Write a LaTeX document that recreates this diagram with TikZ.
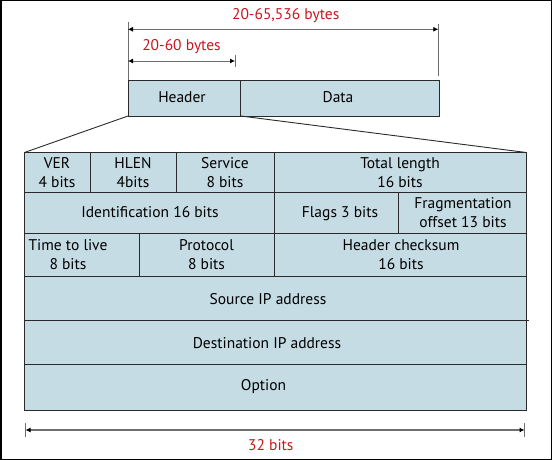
\documentclass[tikz,border=0pt]{standalone}
\usepackage{fontspec}
\setmainfont{PT Sans}
\usetikzlibrary{arrows.meta}
\definecolor{cellfill}{HTML}{C5DCE4}
\definecolor{lblred}{HTML}{C8171E}
\definecolor{arrgray}{HTML}{6E6E6E}
\definecolor{edge}{HTML}{2A2A2A}
\begin{document}
\begin{tikzpicture}[x=1pt,y=-1pt,
  cell/.style={draw=edge,fill=cellfill,line width=0.9pt},
  sep/.style={draw=edge,line width=0.9pt},
  txt/.style={font=\fontsize{15.5}{19}\selectfont,align=center,inner sep=0pt},
  red/.style={font=\fontsize{15.5}{19}\selectfont,text=lblred,inner sep=0pt},
  dim/.style={draw=arrgray,line width=0.8pt,{Latex[length=5pt,width=5pt,black]}-{Latex[length=5pt,width=5pt,black]}},
  tick/.style={draw=arrgray,line width=1pt}]
\useasboundingbox (0,0) rectangle (552,460);
\draw[line width=1.5pt] (0.75,0.75) rectangle (551.25,459.25);
% top boxes
\draw[cell] (128,80) rectangle (240.8,116);
\draw[cell] (240.8,80) rectangle (439,116);
\node[txt] (hdr) at (182,97.5) {Header};
\node[txt] (dat) at (338,97.5) {Data};
\coordinate (hl) at (128,116);
\coordinate (hr) at (240.8,116);
% table
\draw[cell] (24.5,152.5) rectangle (526.3,410);
\draw[sep] (24.5,192.7) -- (526.3,192.7);
\draw[sep] (24.5,233) -- (526.3,233);
\draw[sep] (24.5,276.7) -- (526.3,276.7);
\draw[sep] (24.5,320.5) -- (528.8,320.5);
\draw[sep] (24.5,364.3) -- (526.3,364.3);
\draw[sep] (90,152.5) -- (90,192.7);
\draw[sep] (176,152.5) -- (176,192.7);
\draw[sep] (274,152.5) -- (274,276.7);
\draw[sep] (398.8,192.7) -- (398.8,233);
\draw[sep] (139.5,233) -- (139.5,276.7);
\coordinate (tl) at (24.5,152.5);
\coordinate (tr) at (526.3,152.5);
\draw[sep] (hl) -- (tl);
\draw[sep] (hr) -- (tr);
% cell texts
\node[txt] (ver) at (57,173) {VER\\4 bits};
\node[txt] (hlen) at (133,173) {HLEN\\4bits};
\node[txt] (svc) at (225,173) {Service\\8 bits};
\node[txt] (tot) at (400,173) {Total length\\16 bits};
\node[txt] (idf) at (150,212) {Identification 16 bits};
\node[txt] (flg) at (340,214) {Flags 3 bits};
\node[txt] (frg) at (463,213) {Fragmentation\\offset 13 bits};
\node[txt] (ttl) at (68,255) {Time to live\\8 bits};
\node[txt] (prt) at (206.5,255) {Protocol\\8 bits};
\node[txt] (chk) at (401,255) {Header checksum\\16 bits};
\node[txt] (src) at (268,299) {Source IP address};
\node[txt] (dst) at (267,343) {Destination IP address};
\node[txt] (opt) at (263.5,387) {Option};
% top dimensions
\coordinate (a1) at (128,22);
\coordinate (a1b) at (128,80);
\coordinate (a2) at (438.3,24);
\coordinate (a2b) at (438.3,76);
\draw[tick] (a1) -- (a1b);
\draw[tick] (a2) -- (a2b);
\coordinate (b1) at (128,61);
\coordinate (b2) at (235,61);
\coordinate (b2t) at (235,55);
\coordinate (b2u) at (235,67);
\draw[tick] (b2t) -- (b2u);
\coordinate (c1) at (128,29.3);
\coordinate (c2) at (438.3,29.3);
\draw[dim] (c1) -- (c2);
\draw[dim] (b1) -- (b2);
\node[red] (l1) at (285.7,16) {20-65,536 bytes};
\node[red] (l2) at (181.5,46.5) {20-60 bytes};
% bottom dimension
\coordinate (d1) at (25.5,430);
\coordinate (d2) at (524.5,430);
\coordinate (d1t) at (25.5,423);
\coordinate (d1u) at (25.5,437);
\coordinate (d2t) at (524.5,423);
\coordinate (d2u) at (524.5,437);
\draw[tick] (d1t) -- (d1u);
\draw[tick] (d2t) -- (d2u);
\draw[dim,line width=1.8pt] (d1) -- (d2);
\node[red] (l3) at (270.8,445.5) {32 bits};
\end{tikzpicture}
\end{document}
